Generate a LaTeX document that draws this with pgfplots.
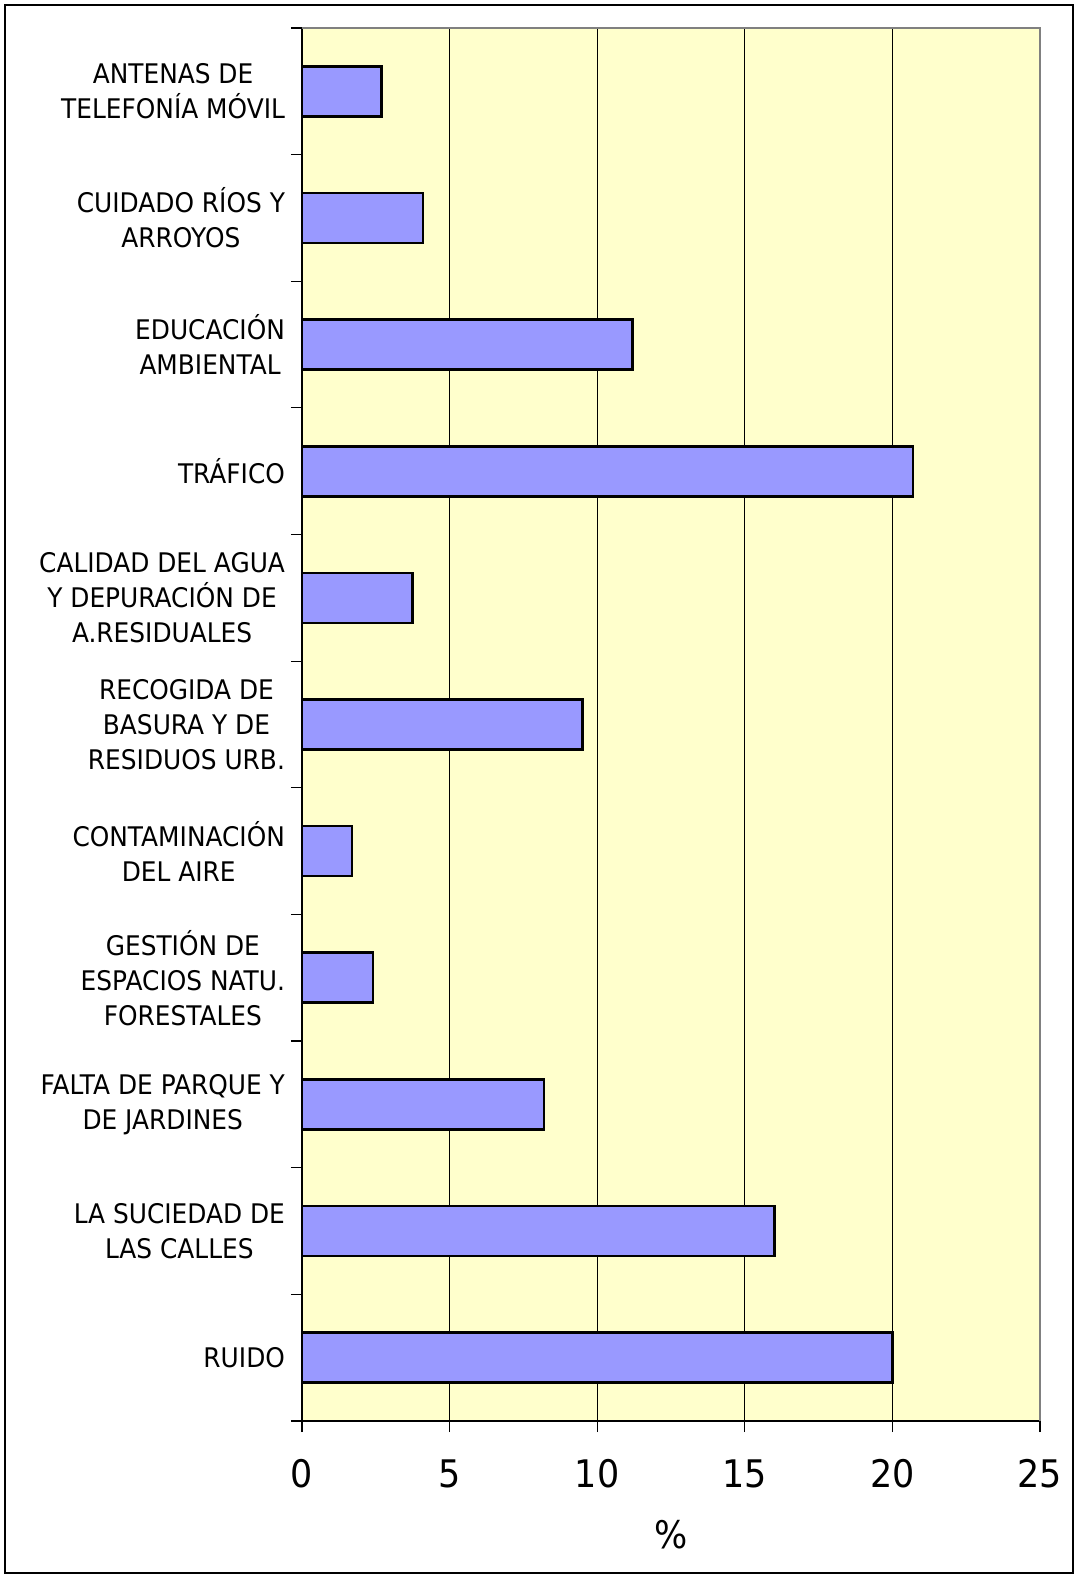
\documentclass[border=0pt]{standalone}
\usepackage{fontspec}
\setmainfont{DejaVu Sans}[FakeStretch=0.92]
\usepackage{pgfplots}
\pgfplotsset{compat=1.18}
\definecolor{barfill}{HTML}{9999FF}
\definecolor{plotbg}{HTML}{FFFFCC}
\definecolor{frame}{HTML}{808080}

\begin{document}
\begin{tikzpicture}
\begin{axis}[
  scale only axis,
  width=369pt, height=696.5pt,
  xbar, bar width=25pt,
  xmin=0, xmax=25, ymin=-0.5, ymax=10.5,
  axis lines*=left,
  axis line style={black, line width=0.8pt},
  axis background/.style={fill=plotbg},
  xmajorgrids, grid style={black, line width=0.5pt},
  xtick={0,5,...,25}, minor xtick={0,5,...,25},
  ytick={0,...,10}, minor ytick={-0.5,0.5,...,10.5},
  major tick length=0pt, minor tick length=5.5pt,
  tick align=outside,
  tick style={black, line width=0.6pt},
  /pgf/number format/assume math mode=true,
  xticklabel style={font=\fontsize{19}{22}\selectfont, anchor=center, yshift=-26.5pt},
  yticklabel style={font=\fontsize{13.5}{17.5}\selectfont, align=center, xshift=-5pt},
  yticklabels={
    RUIDO,
    {LA SUCIEDAD DE\\LAS CALLES},
    {FALTA DE PARQUE Y\\DE JARDINES},
    {GESTIÓN DE\\ESPACIOS NATU.\\FORESTALES},
    {CONTAMINACIÓN\\DEL AIRE},
    {RECOGIDA DE\\BASURA Y DE\\RESIDUOS URB.},
    {CALIDAD DEL AGUA\\Y DEPURACIÓN DE\\A.RESIDUALES},
    TRÁFICO,
    {EDUCACIÓN\\AMBIENTAL},
    {CUIDADO RÍOS Y\\ARROYOS},
    {ANTENAS DE\\TELEFONÍA MÓVIL}
  },
  xlabel={\%},
  xlabel style={font=\fontsize{19}{22}\selectfont, at={(rel axis cs:0.5,0)}, anchor=center, yshift=-57pt},
  clip=false,
]
\addplot[fill=barfill, draw=black, line width=1.3pt] coordinates {
  (20.0,0) (16.0,1) (8.2,2) (2.4,3) (1.7,4) (9.5,5)
  (3.75,6) (20.7,7) (11.2,8) (4.1,9) (2.7,10)
};
\draw[frame, line width=1pt] (rel axis cs:0,1) -- (rel axis cs:1,1) -- (rel axis cs:1,0);
\end{axis}
\draw[black, line width=0.6pt] (-148.5pt,-76pt) rectangle (385.5pt,708pt);
\path (-151pt,-79pt) rectangle (386.5pt,710.5pt);
\end{tikzpicture}
\end{document}
